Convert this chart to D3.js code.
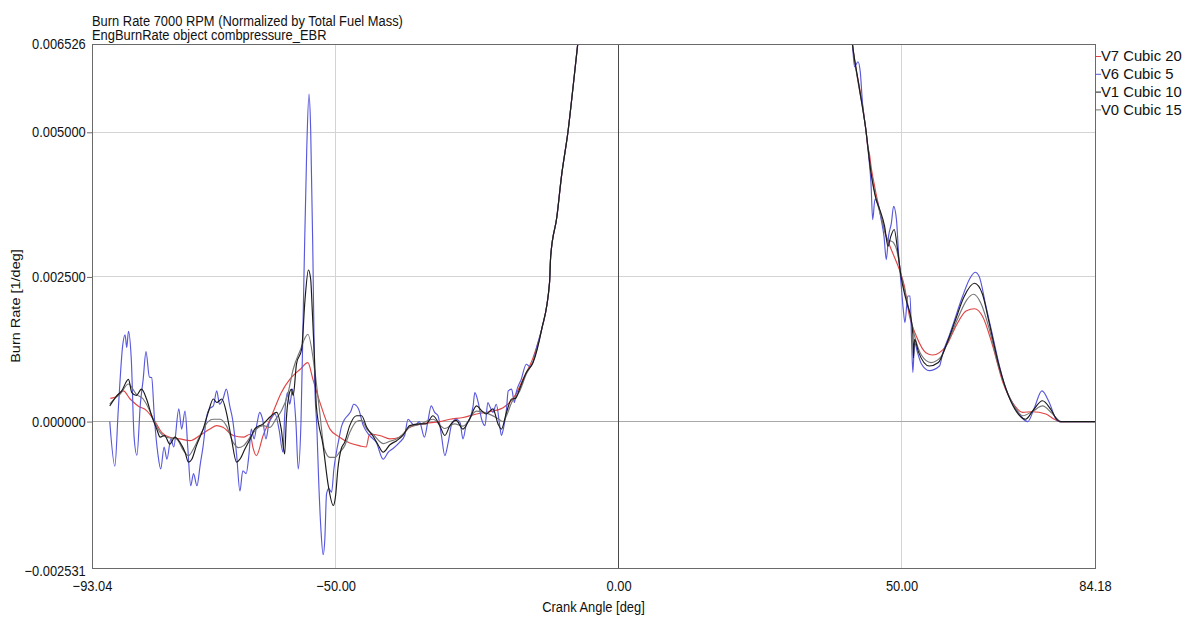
<!DOCTYPE html>
<html>
<head>
<meta charset="utf-8">
<script src="https://cdn.jsdelivr.net/npm/d3@7"></script>
<style>
  body { margin: 0; background: #fff; }
  svg text { font-family: "Liberation Sans", Arial, sans-serif; font-size: 14.5px; fill: #111; }
</style>
</head>
<body>
<svg id="chart" width="1185" height="619"></svg>
<script>
// Burn rate traces, [crank angle (deg), burn rate (1/deg)]; null marks the stretch above the plot window
const v7Cubic20 = [
  [-89.8,0.00040],[-89.0,0.00042],[-87.5,0.00053],[-86.3,0.00039],[-84.9,0.00027],[-83.4,0.00019],
  [-81.9,0.00000],[-80.7,-0.00019],[-79.3,-0.00027],[-77.5,-0.00030],[-75.7,-0.00033],[-74.0,-0.00024],
  [-72.2,-0.00013],[-71.0,-0.00007],[-69.9,-0.00010],[-68.1,-0.00024],[-66.3,-0.00027],[-65.1,-0.00022],
  [-64.6,-0.00045],[-64.0,-0.00059],[-62.8,-0.00024],[-61.3,0.00010],[-59.6,0.00050],[-58.1,0.00073],
  [-56.3,0.00090],[-54.9,0.00102],[-54.0,0.00073],[-52.8,0.00034],[-51.0,-0.00013],[-49.3,-0.00027],
  [-47.5,-0.00037],[-45.7,-0.00042],[-44.6,-0.00044],[-44.0,-0.00022],[-42.2,-0.00024],[-40.4,-0.00030],
  [-38.7,-0.00027],[-36.9,-0.00010],[-34.6,-0.00004],[-31.6,0.00000],[-29.8,0.00004],[-27.5,0.00007],
  [-25.1,0.00013],[-22.8,0.00017],[-20.4,0.00024],[-18.1,0.00048],[-16.9,0.00073],[-15.2,0.00108],
  [-13.6,0.00159],[-12.2,0.00240],[-12.0,0.00285],[-10.9,0.00354],[-10.1,0.00423],[-8.9,0.00504],
  [-8.1,0.00573],[-7.2,0.00654],[-6.5,0.00720],[17,null],
  [41.0,0.00680],[41.3,0.00654],[43.7,0.00504],[44.0,0.00476],[44.3,0.00464],[44.7,0.00435],
  [44.9,0.00424],[46.1,0.00366],[47.3,0.00320],[48.2,0.00297],[49.6,0.00263],[50.5,0.00234],
  [51.4,0.00182],[52.6,0.00148],[54.3,0.00119],[55.5,0.00115],[57.9,0.00131],[59.6,0.00165],
  [61.4,0.00191],[62.9,0.00195],[64.3,0.00182],[66.1,0.00131],[67.9,0.00068],[69.6,0.00033],
  [71.4,0.00016],[73.1,0.00017],[75.5,0.00013],[77.0,0.00004],[77.9,0],[84.18,0]
];

const v6Cubic5 = [
  [-89.9,0.00000],[-89.0,-0.00077],[-88.4,0.00020],[-87.6,0.00133],[-87.2,0.00150],[-86.9,0.00128],
  [-86.6,0.00156],[-86.1,0.00108],[-85.6,-0.00027],[-85.1,-0.00058],[-84.5,0.00030],[-84.0,0.00073],
  [-83.5,0.00121],[-82.9,0.00077],[-82.5,0.00076],[-82.0,0.00004],[-81.4,-0.00056],[-80.9,-0.00082],
  [-80.3,-0.00044],[-79.8,-0.00065],[-79.1,-0.00030],[-78.6,-0.00044],[-77.7,0.00022],[-77.2,-0.00013],
  [-76.6,0.00018],[-76.1,-0.00047],[-75.6,-0.00111],[-75.1,-0.00090],[-74.5,-0.00111],[-73.9,-0.00073],
  [-73.4,-0.00042],[-72.8,0.00008],[-72.3,0.00022],[-71.6,0.00027],[-71.0,0.00053],[-70.5,0.00030],
  [-69.9,0.00039],[-69.3,0.00056],[-68.7,0.00027],[-68.2,0.00004],[-67.5,-0.00056],[-66.9,-0.00120],
  [-66.4,-0.00085],[-65.8,-0.00090],[-65.3,-0.00056],[-64.9,-0.00013],[-64.4,-0.00030],[-63.9,-0.00004],
  [-63.4,0.00016],[-62.9,0.00004],[-62.3,-0.00030],[-61.8,-0.00004],[-61.2,0.00008],[-60.7,0.00013],
  [-60.0,-0.00013],[-59.3,-0.00053],[-59.0,0.00009],[-58.5,0.00050],[-58.1,0.00030],[-57.6,0.00056],
  [-57.0,-0.00004],[-56.6,-0.00082],[-56.1,0.00004],[-55.6,0.00246],[-55.1,0.00470],[-54.7,0.00566],
  [-54.4,0.00504],[-54.0,0.00280],[-53.7,0.00073],[-53.3,-0.00013],[-53.0,-0.00099],[-52.6,-0.00185],
  [-52.2,-0.00230],[-51.9,-0.00203],[-51.6,-0.00125],[-51.2,-0.00116],[-50.7,-0.00122],[-50.3,-0.00082],
  [-49.8,-0.00050],[-49.4,-0.00030],[-49.0,-0.00010],[-48.4,0.00004],[-47.8,0.00011],[-47.3,0.00018],
  [-46.8,0.00030],[-46.0,0.00023],[-45.1,-0.00007],[-44.0,-0.00024],[-42.8,-0.00036],[-41.6,-0.00065],
  [-40.7,-0.00053],[-39.9,-0.00047],[-38.7,-0.00036],[-37.8,-0.00024],[-37.2,0.00004],[-36.6,-0.00002],
  [-36.0,-0.00007],[-35.2,0.00000],[-34.3,-0.00027],[-33.7,0.00000],[-33.1,0.00027],[-32.5,0.00016],
  [-31.9,0.00010],[-31.3,-0.00024],[-30.7,-0.00059],[-30.1,-0.00036],[-29.5,-0.00005],[-28.7,0.00004],
  [-28.0,-0.00002],[-27.5,-0.00030],[-26.9,-0.00005],[-26.3,0.00004],[-25.7,0.00027],[-25.4,0.00050],
  [-24.8,0.00033],[-24.2,0.00004],[-23.6,-0.00007],[-23.1,0.00033],[-22.7,0.00025],[-22.2,0.00016],
  [-21.6,0.00030],[-21.0,-0.00007],[-20.7,-0.00024],[-20.3,-0.00010],[-19.8,0.00022],[-19.5,0.00053],
  [-18.9,0.00056],[-18.4,0.00033],[-18.1,0.00050],[-17.2,0.00073],[-16.3,0.00099],[-15.7,0.00095],
  [-15.1,0.00104],[-14.3,0.00135],[-13.6,0.00159],[-12.2,0.00240],[-12.0,0.00285],[-10.9,0.00354],
  [-10.1,0.00423],[-8.9,0.00504],[-8.1,0.00573],[-7.2,0.00654],[-6.5,0.00720],[17,null],
  [41.0,0.00680],[41.3,0.00654],[41.7,0.00613],[42.3,0.00622],[42.7,0.00605],[43.1,0.00550],
  [43.7,0.00504],[44.2,0.00458],[44.6,0.00412],[44.9,0.00349],[45.3,0.00384],[45.8,0.00378],
  [46.4,0.00349],[46.9,0.00320],[47.3,0.00280],[47.7,0.00320],[48.2,0.00343],[48.6,0.00372],
  [49.1,0.00349],[49.5,0.00286],[49.9,0.00240],[50.3,0.00194],[50.6,0.00171],[51.1,0.00217],
  [51.5,0.00217],[51.8,0.00131],[52.0,0.00085],[52.3,0.00137],[52.8,0.00120],[53.5,0.00100],
  [54.9,0.00088],[56.7,0.00096],[57.3,0.00119],[58.4,0.00148],[59.0,0.00165],[60.8,0.00217],
  [62.0,0.00246],[63.0,0.00258],[63.7,0.00251],[64.9,0.00200],[66.1,0.00148],[67.3,0.00096],
  [68.7,0.00050],[70.2,0.00022],[72.3,0.00000],[73.4,0.00022],[74.8,0.00053],[76.1,0.00033],
  [77.3,0.00004],[77.9,0],[84.18,0]
];

const v1Cubic10 = [
  [-89.9,0.00027],[-88.7,0.00044],[-87.8,0.00053],[-86.6,0.00073],[-86.0,0.00050],[-85.2,0.00045],
  [-84.3,0.00056],[-83.4,0.00039],[-82.5,0.00010],[-81.6,-0.00013],[-81.0,-0.00027],[-80.2,-0.00024],
  [-79.3,-0.00039],[-78.4,-0.00027],[-77.5,-0.00036],[-76.6,-0.00053],[-76.0,-0.00070],[-75.4,-0.00065],
  [-74.6,-0.00042],[-73.4,-0.00013],[-72.5,0.00016],[-71.6,0.00039],[-71.0,0.00033],[-70.1,0.00039],
  [-69.3,0.00016],[-68.4,-0.00030],[-67.5,-0.00070],[-66.9,-0.00065],[-66.0,-0.00047],[-65.1,-0.00030],
  [-64.3,-0.00013],[-63.4,-0.00007],[-62.8,-0.00004],[-61.6,0.00008],[-60.4,0.00016],[-59.6,-0.00013],
  [-59.0,-0.00056],[-58.7,0.00004],[-58.4,0.00036],[-57.8,0.00056],[-57.5,0.00045],[-56.9,0.00100],
  [-56.0,0.00125],[-55.4,0.00211],[-54.8,0.00262],[-54.4,0.00246],[-54.1,0.00188],[-53.7,0.00102],
  [-53.4,0.00027],[-52.2,-0.00042],[-51.3,-0.00110],[-50.4,-0.00145],[-50.0,-0.00128],[-49.6,-0.00082],
  [-49.0,-0.00047],[-48.4,-0.00036],[-47.5,-0.00007],[-46.3,0.00010],[-45.4,0.00010],[-44.5,-0.00010],
  [-43.4,-0.00025],[-42.5,-0.00040],[-41.6,-0.00053],[-40.4,-0.00040],[-39.2,-0.00033],[-38.1,-0.00024],
  [-36.9,-0.00007],[-35.1,-0.00004],[-34.0,-0.00004],[-32.8,0.00010],[-31.6,-0.00007],[-30.7,-0.00024],
  [-29.8,-0.00007],[-28.7,0.00002],[-27.5,-0.00013],[-26.3,0.00005],[-25.1,0.00027],[-24.2,0.00019],
  [-23.4,0.00013],[-22.2,0.00022],[-21.3,-0.00004],[-20.7,-0.00013],[-19.8,0.00016],[-18.9,0.00039],
  [-18.2,0.00040],[-17.5,0.00056],[-16.3,0.00085],[-15.1,0.00102],[-13.6,0.00159],[-12.2,0.00240],
  [-12.0,0.00285],[-10.9,0.00354],[-10.1,0.00423],[-8.9,0.00504],[-8.1,0.00573],[-7.2,0.00654],
  [-6.5,0.00720],[17,null],
  [41.0,0.00680],[41.3,0.00654],[42.5,0.00579],[43.7,0.00504],[44.6,0.00430],[45.5,0.00384],
  [46.2,0.00365],[47.0,0.00338],[47.6,0.00303],[48.1,0.00320],[48.7,0.00332],[49.3,0.00297],
  [49.9,0.00251],[50.5,0.00222],[51.1,0.00200],[51.6,0.00182],[52.0,0.00150],[52.1,0.00110],
  [52.3,0.00142],[53.0,0.00120],[54.9,0.00096],[56.5,0.00102],[58.0,0.00135],[59.5,0.00175],
  [61.0,0.00215],[62.9,0.00239],[64.3,0.00220],[65.5,0.00170],[67.0,0.00105],[68.5,0.00055],
  [70.0,0.00022],[71.9,0.00004],[73.3,0.00020],[74.9,0.00036],[76.3,0.00022],[77.5,0.00003],
  [78.0,0],[84.18,0]
];

const v0Cubic15 = [
  [-89.9,0.00030],[-89.0,0.00040],[-88.1,0.00047],[-86.6,0.00065],[-85.2,0.00047],[-84.0,0.00039],
  [-83.0,0.00022],[-82.2,0.00004],[-81.0,-0.00019],[-79.9,-0.00027],[-78.1,-0.00030],[-76.9,-0.00050],
  [-76.0,-0.00059],[-75.1,-0.00047],[-73.7,-0.00019],[-72.5,0.00000],[-71.6,0.00004],[-70.4,0.00004],
  [-69.3,-0.00007],[-68.1,-0.00036],[-67.2,-0.00045],[-66.3,-0.00042],[-65.1,-0.00027],[-64.0,-0.00013],
  [-62.8,-0.00007],[-61.6,-0.00010],[-60.5,0.00005],[-59.5,0.00020],[-58.5,0.00045],[-57.5,0.00090],
  [-56.3,0.00122],[-54.9,0.00151],[-53.7,0.00090],[-52.8,0.00016],[-52.0,-0.00047],[-51.0,-0.00062],
  [-50.1,-0.00062],[-49.3,-0.00053],[-48.4,-0.00042],[-47.5,-0.00019],[-46.3,0.00000],[-45.4,0.00002],
  [-44.5,-0.00013],[-43.4,-0.00022],[-41.6,-0.00038],[-40.4,-0.00034],[-39.2,-0.00030],[-38.1,-0.00022],
  [-36.9,-0.00010],[-35.0,-0.00004],[-32.8,0.00004],[-30.7,-0.00012],[-29.0,-0.00004],[-27.5,-0.00008],
  [-25.1,0.00018],[-23.4,0.00015],[-21.3,0.00005],[-20.4,0.00000],[-19.8,0.00010],[-18.9,0.00033],
  [-17.5,0.00052],[-16.3,0.00082],[-15.1,0.00104],[-13.6,0.00159],[-12.2,0.00240],[-12.0,0.00285],
  [-10.9,0.00354],[-10.1,0.00423],[-8.9,0.00504],[-8.1,0.00573],[-7.2,0.00654],[-6.5,0.00720],[17,null],
  [41.0,0.00680],[41.3,0.00654],[43.7,0.00504],[44.6,0.00432],[45.5,0.00386],[46.5,0.00350],
  [47.5,0.00315],[48.5,0.00310],[49.3,0.00290],[49.9,0.00255],[50.7,0.00220],[51.5,0.00185],
  [52.3,0.00148],[53.5,0.00115],[55.2,0.00102],[56.8,0.00110],[58.3,0.00140],[60.0,0.00180],
  [61.5,0.00210],[62.7,0.00220],[64.0,0.00205],[65.5,0.00160],[67.0,0.00100],[68.5,0.00055],
  [70.0,0.00025],[71.4,0.00010],[73.2,0.00018],[74.9,0.00027],[76.5,0.00015],[77.8,0.00002],
  [78.2,0],[84.18,0]
];

const seriesNames = ["V7 Cubic 20", "V6 Cubic 5", "V1 Cubic 10", "V0 Cubic 15"];
const seriesData = [v7Cubic20, v6Cubic5, v1Cubic10, v0Cubic15];
const seriesColors = ["#e04444", "#5858dc", "#1a1a1a", "#767676"];
const drawOrder = [0, 1, 3, 2];

const xTicks = [-93.04, -50, 0, 50, 84.18];
const yTicks = [-0.002531, 0, 0.0025, 0.005, 0.006526];
const xGrid = [-50, 50];
const yGrid = [0.0025, 0.005];

const titleLines = ["Burn Rate 7000 RPM (Normalized by Total Fuel Mass)", "EngBurnRate object combpressure_EBR"];
const xTitle = "Crank Angle [deg]";
const yTitle = "Burn Rate [1/deg]";

// ---- layout ----
const plot = { left: 92, top: 44, right: 1095, bottom: 568 };
const narrow = 0.89;   // horizontal squeeze applied to the chart lettering
const svg = d3.select("#chart");

const x = d3.scaleLinear().domain([xTicks[0], xTicks[xTicks.length - 1]]).range([plot.left, plot.right]);
const y = d3.scaleLinear().domain([yTicks[0], yTicks[yTicks.length - 1]]).range([plot.bottom, plot.top]);

svg.append("defs").append("clipPath").attr("id", "plotClip")
  .append("rect")
  .attr("x", plot.left).attr("y", plot.top)
  .attr("width", plot.right - plot.left).attr("height", plot.bottom - plot.top);

// grid
const grid = svg.append("g");
grid.selectAll(".gx").data(xGrid).join("line")
  .attr("x1", d => x(d)).attr("x2", d => x(d))
  .attr("y1", plot.top).attr("y2", plot.bottom)
  .attr("stroke", "#d4d4d4").attr("stroke-width", 1).attr("shape-rendering", "crispEdges");
grid.selectAll(".gy").data(yGrid).join("line")
  .attr("x1", plot.left).attr("x2", plot.right)
  .attr("y1", d => y(d)).attr("y2", d => y(d))
  .attr("stroke", "#d4d4d4").attr("stroke-width", 1).attr("shape-rendering", "crispEdges");
// zero reference lines
grid.append("line")
  .attr("x1", plot.left).attr("x2", plot.right).attr("y1", y(0)).attr("y2", y(0))
  .attr("stroke", "#a8a8a8").attr("stroke-width", 1).attr("shape-rendering", "crispEdges");
grid.append("line")
  .attr("x1", x(0)).attr("x2", x(0)).attr("y1", plot.top).attr("y2", plot.bottom)
  .attr("stroke", "#4a4a4a").attr("stroke-width", 1).attr("shape-rendering", "crispEdges");

// traces
const line = d3.line()
  .defined(d => d[1] !== null)
  .x(d => x(d[0]))
  .y(d => y(d[1]))
  .curve(d3.curveMonotoneX);

const traces = svg.append("g").attr("clip-path", "url(#plotClip)");
drawOrder.forEach(i => {
  traces.append("path")
    .datum(seriesData[i])
    .attr("fill", "none")
    .attr("stroke", seriesColors[i])
    .attr("stroke-width", 1.15)
    .attr("stroke-linejoin", "round")
    .attr("d", line);
});

// frame
svg.append("rect")
  .attr("x", plot.left).attr("y", plot.top)
  .attr("width", plot.right - plot.left).attr("height", plot.bottom - plot.top)
  .attr("fill", "none").attr("stroke", "#6a6a6a").attr("stroke-width", 1)
  .attr("shape-rendering", "crispEdges");

// axes
const yAxis = svg.append("g")
  .attr("transform", `translate(${plot.left},0)`)
  .call(d3.axisLeft(y).tickValues(yTicks).tickFormat(d3.format(".6f")).tickSize(5).tickPadding(2));
yAxis.select(".domain").remove();
yAxis.selectAll(".tick line").attr("stroke", "#6a6a6a");
yAxis.selectAll(".tick text").attr("font-size", null).attr("font-family", null)
  .attr("transform", `scale(${narrow},1)`);
yAxis.selectAll(".tick").filter(d => d === yTicks[0]).select("text").attr("dy", "0.5em");
yAxis.selectAll(".tick").filter(d => d === yTicks[0] || d === yTicks[yTicks.length - 1]).select("line").remove();

const xAxis = svg.append("g")
  .attr("transform", `translate(0,${plot.bottom})`)
  .call(d3.axisBottom(x).tickValues(xTicks).tickFormat(d3.format(".2f")).tickSize(0).tickPadding(13));
xAxis.select(".domain").remove();
xAxis.selectAll(".tick text").attr("font-size", null).attr("font-family", null)
  .attr("transform", `scale(${narrow},1)`);

// titles
svg.append("g").selectAll("text").data(titleLines).join("text")
  .attr("transform", (d, i) => `translate(${plot.left},${26 + i * 14}) scale(${narrow},1)`)
  .text(d => d);

svg.append("text")
  .attr("transform", `translate(${(plot.left + plot.right) / 2},612) scale(${narrow},1)`)
  .attr("text-anchor", "middle")
  .text(xTitle);

svg.append("text")
  .attr("transform", `translate(20,${(plot.top + plot.bottom) / 2}) rotate(-90) scale(1,${narrow})`)
  .attr("text-anchor", "middle")
  .text(yTitle);

// legend
const legend = svg.append("g").attr("transform", `translate(${plot.right},0)`);
const rows = legend.selectAll("g").data(seriesNames).join("g")
  .attr("transform", (d, i) => `translate(0,${56 + i * 17.8})`);
rows.append("line")
  .attr("x1", 1).attr("x2", 6).attr("y1", 0.5).attr("y2", 0.5)
  .attr("stroke", (d, i) => seriesColors[i]).attr("stroke-width", 1);
rows.append("text")
  .attr("x", 6).attr("y", 0).attr("dy", "0.36em")
  .style("font-size", "14.8px")
  .text(d => d);
</script>
</body>
</html>
